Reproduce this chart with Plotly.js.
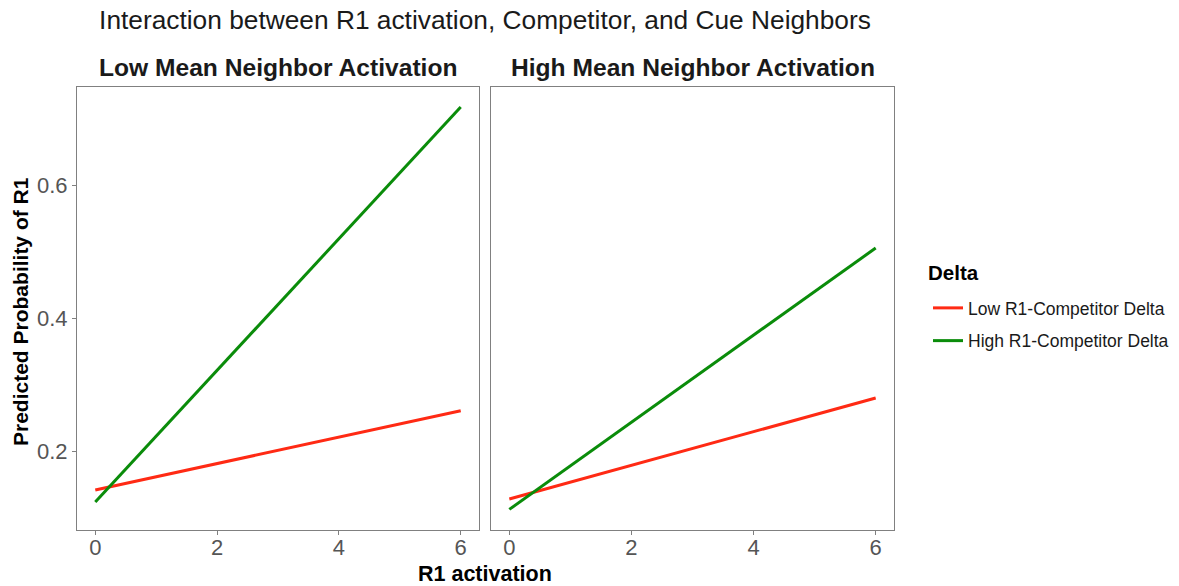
<!DOCTYPE html>
<html><head><meta charset="utf-8">
<script src="https://cdn.plot.ly/plotly-3.0.1.min.js"></script>
<style>html,body{margin:0;padding:0;background:#fff}</style>
</head><body>
<div id="chart" style="width:1179px;height:586px"></div>
<script>
const xVals = [0, 6];
const lowNbrLowDelta = [0.1426, 0.2615];
const lowNbrHighDelta = [0.1245, 0.717];
const highNbrLowDelta = [0.129, 0.2806];
const highNbrHighDelta = [0.1135, 0.5055];
const panelTitles = ["Low Mean Neighbor Activation", "High Mean Neighbor Activation"];
const seriesNames = ["Low R1-Competitor Delta", "High R1-Competitor Delta"];
const xTicks = [0, 2, 4, 6];
const yTicks = [0.2, 0.4, 0.6];

const RED = '#FF2A14', GREEN = '#0A8C0A';
const W = 1179, H = 586;
const L1 = 77/W, R1 = 479/W, L2 = 491/W, R2 = 894/W;
const YB = 1 - 530/H, YT = 1 - 87/H;
const FONT = 'Liberation Sans, Arial, sans-serif';

const traces = [
  {x: xVals, y: lowNbrLowDelta, xaxis:'x', yaxis:'y', mode:'lines', name: seriesNames[0], legendgroup:'a', line:{color:RED, width:3}},
  {x: xVals, y: lowNbrHighDelta, xaxis:'x', yaxis:'y', mode:'lines', name: seriesNames[1], legendgroup:'b', line:{color:GREEN, width:3}},
  {x: xVals, y: highNbrLowDelta, xaxis:'x2', yaxis:'y2', mode:'lines', name: seriesNames[0], legendgroup:'a', showlegend:false, line:{color:RED, width:3}},
  {x: xVals, y: highNbrHighDelta, xaxis:'x2', yaxis:'y2', mode:'lines', name: seriesNames[1], legendgroup:'b', showlegend:false, line:{color:GREEN, width:3}}
];

const axCommon = {
  showgrid:false, zeroline:false, showline:true, mirror:true, linecolor:'#808080', linewidth:1,
  ticks:'outside', ticklen:4, tickcolor:'#808080', tickwidth:1,
  tickfont:{family:FONT, size:22, color:'#555555'}
};
const xr = [-0.3, 6.3], yr = [0.0826, 0.747];

const layout = {
  width: W, height: H,
  margin:{l:0, r:0, t:0, b:0},
  paper_bgcolor:'#fff', plot_bgcolor:'#fff',
  font:{family:FONT, color:'#1a1a1a'},
  title:{text:'Interaction between R1 activation, Competitor, and Cue Neighbors', x:485/W, xanchor:'center', y:1-20/H, yanchor:'middle', font:{size:26.3, color:'#1a1a1a'}},
  xaxis: Object.assign({}, axCommon, {domain:[L1, R1], range:xr, tickvals:xTicks, anchor:'y', ticklabelstandoff:-6}),
  xaxis2: Object.assign({}, axCommon, {domain:[L2, R2], range:xr, tickvals:xTicks, anchor:'y2', ticklabelstandoff:-6}),
  yaxis: Object.assign({}, axCommon, {domain:[YB, YT], range:yr, tickvals:yTicks, tickformat:'.1f', anchor:'x'}),
  yaxis2: Object.assign({}, axCommon, {domain:[YB, YT], range:yr, tickvals:yTicks, showticklabels:false, ticks:'', anchor:'x2'}),
  showlegend:true,
  legend:{x:928/W, xanchor:'left', y:1-290/H, yanchor:'top', tracegroupgap:7,
    font:{size:17.5, color:'#1a1a1a'}, bgcolor:'rgba(0,0,0,0)'},
  annotations:[
    {text:'<b>'+panelTitles[0]+'</b>', xref:'paper', yref:'paper', x:(L1+R1)/2, y:1-68/H, xanchor:'center', yanchor:'middle', showarrow:false, font:{size:24.6, color:'#1a1a1a'}},
    {text:'<b>'+panelTitles[1]+'</b>', xref:'paper', yref:'paper', x:(L2+R2)/2, y:1-68/H, xanchor:'center', yanchor:'middle', showarrow:false, font:{size:24.6, color:'#1a1a1a'}},
    {text:'<b>R1 activation</b>', xref:'paper', yref:'paper', x:485/W, y:1-574/H, xanchor:'center', yanchor:'middle', showarrow:false, font:{size:21.5, color:'#000'}},
    {text:'<b>Predicted Probability of R1</b>', xref:'paper', yref:'paper', x:20/W, y:1-312/H, xanchor:'center', yanchor:'middle', textangle:-90, showarrow:false, font:{size:21, color:'#000'}},
    {text:'<b>Delta</b>', xref:'paper', yref:'paper', x:926/W, y:1-272/H, xanchor:'left', yanchor:'middle', showarrow:false, font:{size:20.5, color:'#000'}}
  ]
};
Plotly.newPlot('chart', traces, layout, {displayModeBar:false, staticPlot:true});
</script>
</body></html>
